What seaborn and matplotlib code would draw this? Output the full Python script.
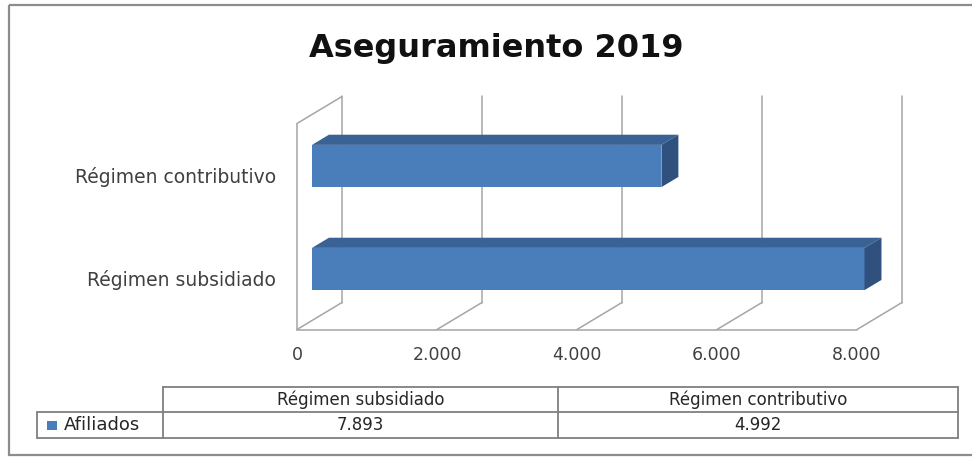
import numpy as np
import pandas as pd
import matplotlib
matplotlib.use('Agg')
import matplotlib.pyplot as plt
import seaborn as sns
from matplotlib.patches import Polygon, Rectangle

# datos
categorias = ['Régimen subsidiado', 'Régimen contributivo']
afiliados = [7893, 4992]
serie = 'Afiliados'
titulo = 'Aseguramiento 2019'
xticks = [0, 2000, 4000, 6000, 8000]
xtick_labels = ['0', '2.000', '4.000', '6.000', '8.000']

color_frente = '#4a7ebb'
color_arriba = '#3a6294'
color_lado = '#30517d'
color_grid = '#a6a6a6'
color_texto = '#404040'

sns.set_style('white')
plt.rcParams['font.family'] = ['DejaVu Sans']

W, H = 972, 459
fig = plt.figure(figsize=(W / 100, H / 100), dpi=100)

def fx(px):
    return px / W

def fy(py):
    return 1 - py / H

# fondo en pixeles: marco y tabla de datos
bg = fig.add_axes([0, 0, 1, 1], zorder=-1)
bg.set_xlim(0, W); bg.set_ylim(H, 0); bg.axis('off')
bg.add_patch(Rectangle((9, 5), 975, 450, fill=False, edgecolor='#8c8c8c', lw=1.6, clip_on=False))

# eje principal (plano frontal del grafico 3D)
ax = fig.add_axes([fx(297), fy(329.5), fx(857) - fx(297), fy(123.5) - fy(329.5)])
ax.set_facecolor('none')
df = pd.DataFrame({'Categoria': categorias, serie: afiliados})
orden = categorias[::-1]
sns.barplot(data=df, x=serie, y='Categoria', order=orden, color=color_frente,
            saturation=1, width=0.41, ax=ax, zorder=3)
ax.set_xlim(0, 8000); ax.set_ylim(1.5, -0.5)

# profundidad: 45 px a la derecha y 27 px hacia arriba
DX = 45 / (560 / 8000)
DY = -27 / 103.0

def p(x, y, d):
    return (x + d * DX, y + d * DY)

y_piso, y_techo = 1.5, -0.5
lw = 1.1
for t in xticks:
    ax.plot(*zip(p(t, y_piso, 1), p(t, y_techo, 1)), color=color_grid, lw=lw, zorder=1, clip_on=False)
    ax.plot(*zip(p(t, y_piso, 0), p(t, y_piso, 1)), color=color_grid, lw=lw, zorder=1, clip_on=False)
ax.plot([0, 8000], [y_piso, y_piso], color=color_grid, lw=lw, zorder=1, clip_on=False)
ax.plot([0, 0], [y_piso, y_techo], color=color_grid, lw=lw, zorder=1, clip_on=False)
ax.plot(*zip(p(0, y_techo, 0), p(0, y_techo, 1)), color=color_grid, lw=lw, zorder=1, clip_on=False)

# barras en 3D
d0, d1 = 1 / 3, 0.71
for bar in ax.patches:
    x0, y0, w, h = bar.get_x(), bar.get_y(), bar.get_width(), bar.get_height()
    bar.set_x(x0 + d0 * DX); bar.set_y(y0 + d0 * DY)
    bar.set_edgecolor('none'); bar.set_clip_on(False)
    arriba = [p(x0, y0, d0), p(x0 + w, y0, d0), p(x0 + w, y0, d1), p(x0, y0, d1)]
    lado = [p(x0 + w, y0, d0), p(x0 + w, y0 + h, d0), p(x0 + w, y0 + h, d1), p(x0 + w, y0, d1)]
    ax.add_patch(Polygon(arriba, closed=True, facecolor=color_arriba, edgecolor='none', zorder=3, clip_on=False))
    ax.add_patch(Polygon(lado, closed=True, facecolor=color_lado, edgecolor='none', zorder=3, clip_on=False))

ax.set_xticks(xticks, xtick_labels)
ax.tick_params(axis='x', length=0, pad=12, labelsize=12.5, labelcolor=color_texto)
ax.tick_params(axis='y', length=0, pad=15, labelsize=13.5, labelcolor=color_texto)
ax.set_xlabel(''); ax.set_ylabel('')
sns.despine(ax=ax, left=True, bottom=True)

fig.text(fx(496), fy(57), titulo, ha='center', va='baseline', fontsize=23, fontweight='bold', color='#111111')

# tabla de datos
col_x = [37, 163, 558, 958]
fila_y = [387, 412, 438]
lc = '#7f7f7f'
bg.plot([col_x[1], col_x[3]], [fila_y[0], fila_y[0]], color=lc, lw=1.3)
bg.plot([col_x[0], col_x[3]], [fila_y[1], fila_y[1]], color=lc, lw=1.3)
bg.plot([col_x[0], col_x[3]], [fila_y[2], fila_y[2]], color=lc, lw=1.3)
bg.plot([col_x[0], col_x[0]], [fila_y[1], fila_y[2]], color=lc, lw=1.3)
for cx in col_x[1:]:
    bg.plot([cx, cx], [fila_y[0], fila_y[2]], color=lc, lw=1.3)
for i, (cat, val) in enumerate(zip(categorias, afiliados)):
    xc = (col_x[i + 1] + col_x[i + 2]) / 2
    bg.text(xc, (fila_y[0] + fila_y[1]) / 2, cat, ha='center', va='center', fontsize=12, color='#262626')
    bg.text(xc, (fila_y[1] + fila_y[2]) / 2, '{:,}'.format(val).replace(',', '.'),
            ha='center', va='center', fontsize=12, color='#262626')
bg.add_patch(Rectangle((47, 421), 10, 9, facecolor=color_frente, edgecolor='none'))
bg.text(64, (fila_y[1] + fila_y[2]) / 2, serie, ha='left', va='center', fontsize=13, color='#262626')

plt.savefig('out.png', dpi=100, facecolor='w', edgecolor='w')
